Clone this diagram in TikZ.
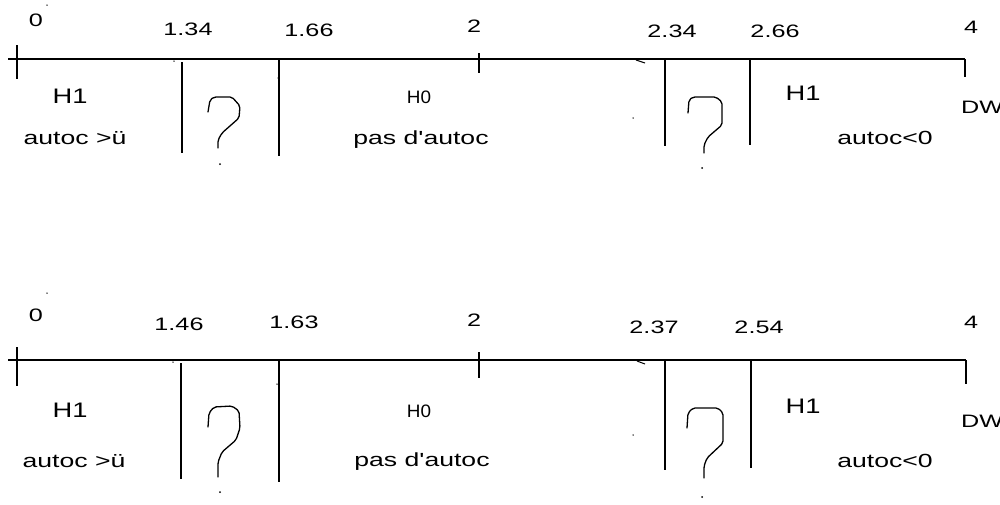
\documentclass[tikz,border=0pt]{standalone}
\usepackage{fontspec}
\setmainfont{Liberation Sans}
\newfontfamily\wfont[FakeStretch=1.4]{Liberation Sans}
\newfontfamily\hfont[FakeStretch=1.3]{Liberation Sans}
\newfontfamily\nfont[FakeStretch=1.05]{Liberation Sans}
\begin{document}
\begin{tikzpicture}[x=1pt,y=-1pt,
  axisline/.style={line width=1.5pt},
  sepline/.style={line width=1.8pt},
  qmark/.style={line width=1.3pt, line join=round, line cap=round, rounded corners=2pt},
  speck/.style={fill=black, inner sep=0pt, minimum size=2pt, circle},
  num/.style={font=\wfont\fontsize{18}{18}\selectfont, inner sep=0pt, anchor=base},
  hone/.style={font=\hfont\fontsize{21}{21}\selectfont, inner sep=0pt, anchor=base},
  hzero/.style={font=\nfont\fontsize{18}{18}\selectfont, inner sep=0pt, anchor=base},
  txt/.style={font=\wfont\fontsize{19}{19}\selectfont, inner sep=0pt, anchor=base},
  dw/.style={font=\wfont\fontsize{18}{18}\selectfont, inner sep=0pt, anchor=base west}]
\clip (0,0) rectangle (1000,504);
\fill[white] (0,0) rectangle (1000,504);

% ---------------- top diagram ----------------
\coordinate (a1s) at (8,59);
\coordinate (a1e) at (965,59);
\draw[axisline] (a1s) -- (a1e);
\draw[axisline] (17,45) -- (17,79);
\draw[axisline] (479,53) -- (479,73);
\draw[line width=2.2pt] (965,59) -- (965,77);
\draw[sepline] (182,62) -- (182,153);
\draw[sepline] (279,59) -- (279,156);
\draw[sepline] (665,59) -- (665,146);
\draw[sepline] (750,59) -- (750,145);

\node[num] (t0) at (36,26) {0};
\node[num] (t134) at (188,35) {1.34};
\node[num] (t166) at (309,36) {1.66};
\node[num] (t2) at (474,32) {2};
\node[num] (t234) at (672,37) {2.34};
\node[num] (t266) at (775,37) {2.66};
\node[num] (t4) at (971,33) {4};

\node[hone] (th1a) at (70,103) {H1};
\node[txt] (tauta) at (75,144) {autoc >ü};
\node[hzero] (th0) at (419,103) {H0};
\node[txt] (tpas) at (421,144) {pas d'autoc};
\node[hone] (th1b) at (803,100) {H1};
\node[txt] (tautb) at (885,144) {autoc<0};
\node[dw] (tdw) at (961,113) {DW};

\draw[qmark] (208,112) -- (210,100) -- (214,97) -- (232,97) -- (240,106) -- (239,118) -- (222,133) -- (218,140) -- (218,148);
\node[speck] (tq1) at (220,164) {};
\draw[qmark] (688,113) -- (689,100) -- (693,97) -- (716,97) -- (722,102) -- (722,125) -- (708,137) -- (704,145) -- (704,153);
\node[speck] (tq2) at (702,168) {};

\node[speck, minimum size=1.5pt] (td1) at (47,5) {};
\node[speck, minimum size=1.5pt] (td2) at (174,61) {};
\node[speck, minimum size=1.5pt] (td3) at (278,78) {};
\node[speck, minimum size=1.5pt] (td4) at (633,118) {};
\draw[line width=1pt] (636,60) -- (645,63);

% ---------------- bottom diagram ----------------
\coordinate (a2s) at (8,360);
\coordinate (a2e) at (966,360);
\draw[axisline] (a2s) -- (a2e);
\draw[axisline] (17,347) -- (17,386);
\draw[axisline] (479,352) -- (479,378);
\draw[line width=2.2pt] (966,360) -- (966,384);
\draw[sepline] (181,363) -- (181,479);
\draw[sepline] (279,360) -- (279,482);
\draw[sepline] (665,360) -- (665,470);
\draw[sepline] (751,360) -- (751,468);

\node[num] (b0) at (36,321) {0};
\node[num] (b146) at (179,330) {1.46};
\node[num] (b163) at (294,328) {1.63};
\node[num] (b2) at (474,326) {2};
\node[num] (b237) at (654,333) {2.37};
\node[num] (b254) at (759,333) {2.54};
\node[num] (b4) at (971,328) {4};

\node[hone] (bh1a) at (70,417) {H1};
\node[txt] (bauta) at (74,467) {autoc >ü};
\node[hzero] (bh0) at (419,417) {H0};
\node[txt] (bpas) at (422,466) {pas d'autoc};
\node[hone] (bh1b) at (803,413) {H1};
\node[txt] (bautb) at (885,467) {autoc<0};
\node[dw] (bdw) at (961,427) {DW};

\draw[qmark] (208,427) -- (209,413) -- (214,407) -- (232,406) -- (239,411) -- (240,428) -- (236,440) -- (222,452) -- (218,462) -- (218,477);
\node[speck] (bq1) at (220,492) {};
\draw[qmark] (687,428) -- (688,413) -- (693,408) -- (718,408) -- (723,413) -- (723,443) -- (707,458) -- (704,466) -- (704,478);
\node[speck] (bq2) at (702,497) {};

\node[speck, minimum size=1.5pt] (bd1) at (47,293) {};
\node[speck, minimum size=1.5pt] (bd2) at (173,362) {};
\node[speck, minimum size=1.5pt] (bd3) at (277,384) {};
\node[speck, minimum size=1.5pt] (bd4) at (633,435) {};
\draw[line width=1pt] (637,361) -- (645,364);
\end{tikzpicture}
\end{document}
